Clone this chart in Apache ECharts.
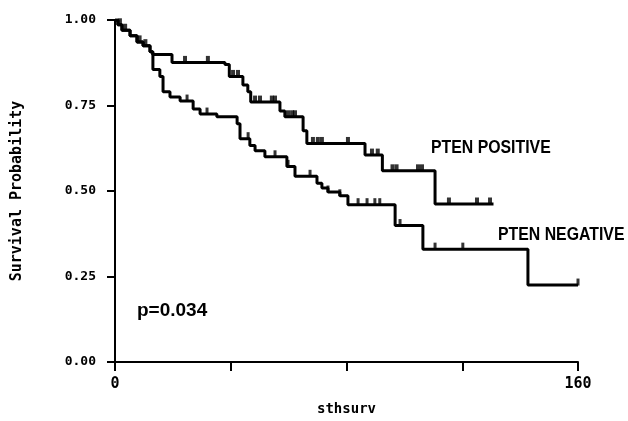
<!DOCTYPE html>
<html>
<head>
<meta charset="utf-8">
<script src="https://cdn.jsdelivr.net/npm/echarts@6/dist/echarts.min.js"></script>
<style>html,body{margin:0;padding:0;background:#fff}#c{width:628px;height:421px}</style>
</head>
<body>
<div id="c"></div>
<script>
// Kaplan-Meier curves
const posTime = [0,1.0,2.4,5.2,7.6,9.7,12.1,13.0,19.7,38.0,39.5,44.2,45.9,46.9,57.0,58.7,65.0,66.3,86.4,92.4,110.6,130.8];
const posSurv = [1.0,0.986,0.97,0.954,0.936,0.925,0.907,0.899,0.876,0.87,0.835,0.81,0.79,0.76,0.734,0.717,0.676,0.639,0.605,0.559,0.462,0.462];
const posCensor = [1.7,3.5,8.5,10.5,24.2,32.1,40.8,42.5,48.4,50.1,54.2,55.3,59.8,61.2,62.2,68.4,70.1,71.5,80.5,88.8,90.8,95.9,97.3,104.7,106.1,115.4,125.1,129.6];

const negTime = [0,1.0,2.4,5.2,7.6,9.7,12.1,13.1,15.5,16.6,19.0,22.5,27.0,29.4,35.2,42.2,43.2,46.6,48.4,51.8,59.4,62.2,69.8,71.5,73.6,77.7,80.5,96.8,106.4,142.7,160];
const negSurv = [1.0,0.986,0.97,0.954,0.936,0.925,0.907,0.855,0.835,0.79,0.775,0.763,0.74,0.725,0.717,0.697,0.653,0.633,0.618,0.60,0.572,0.543,0.523,0.509,0.497,0.486,0.46,0.399,0.33,0.225,0.225];
const negCensor = [24.9,31.8,46.0,55.3,59.8,67.4,73.6,77.7,84.0,87.1,89.8,91.5,98.5,110.6,120.2,160];

const xTickLabels = ['0','','','','160'];
const yTickLabels = ['0.00','0.25','0.50','0.75','1.00'];

function pairs(t, s){ return t.map((v,i)=>[v,s[i]]); }
function survAt(t, times, surv){
  let s = surv[0];
  for (let i=0;i<times.length;i++){ if (times[i] <= t) s = surv[i]; else break; }
  return s;
}
const posCensorPts = posCensor.map(t=>[t, survAt(t,posTime,posSurv)]);
const negCensorPts = negCensor.map(t=>[t, survAt(t,negTime,negSurv)]);

const chart = echarts.init(document.getElementById('c'), null, {renderer:'canvas'});
const monoBold = {fontFamily:'DejaVu Sans Mono', fontWeight:'bold', color:'#000'};
chart.setOption({
  animation:false,
  backgroundColor:'#fff',
  grid:{left:115, right:50, top:20, bottom:55},
  xAxis:[
    {type:'value', min:0, max:160, interval:40,
     axisLine:{show:true, lineStyle:{color:'#000', width:2}},
     axisTick:{show:false}, axisLabel:{show:false}, splitLine:{show:false},
     name:'sthsurv', nameLocation:'middle', nameGap:40,
     nameTextStyle:Object.assign({fontSize:14}, monoBold)},
    {type:'value', min:0, max:160, interval:40, position:'bottom', offset:12,
     axisLine:{show:false},
     axisTick:{show:true, length:9, lineStyle:{color:'#000', width:2}},
     axisLabel:Object.assign({show:true, fontSize:15, margin:3,
       formatter:(v)=>xTickLabels[Math.round(v/40)]}, monoBold),
     splitLine:{show:false}}
  ],
  yAxis:[
    {type:'value', min:0, max:1, interval:0.25,
     axisLine:{show:true, lineStyle:{color:'#000', width:2}},
     axisTick:{show:false}, axisLabel:{show:false}, splitLine:{show:false},
     name:'Survival Probability', nameLocation:'middle', nameGap:90, nameRotate:90,
     nameTextStyle:Object.assign({fontSize:15}, monoBold)},
    {type:'value', min:0, max:1, interval:0.25, position:'left', offset:11,
     axisLine:{show:false},
     axisTick:{show:true, length:8, lineStyle:{color:'#000', width:2}},
     axisLabel:Object.assign({show:true, fontSize:13, margin:8,
       formatter:(v)=>yTickLabels[Math.round(v/0.25)]}, monoBold),
     splitLine:{show:false}}
  ],
  series:[
    {type:'line', step:'end', data:pairs(posTime,posSurv), showSymbol:false,
     lineStyle:{color:'#000', width:3}, xAxisIndex:0, yAxisIndex:0},
    {type:'line', step:'end', data:pairs(negTime,negSurv), showSymbol:false,
     lineStyle:{color:'#000', width:3}, xAxisIndex:0, yAxisIndex:0},
    {type:'scatter', data:posCensorPts, symbol:'rect', symbolSize:[4,7], symbolOffset:[0,-3],
     itemStyle:{color:'#000'}, xAxisIndex:0, yAxisIndex:0},
    {type:'scatter', data:negCensorPts, symbol:'rect', symbolSize:[3,7], symbolOffset:[0,-3],
     itemStyle:{color:'#000'}, xAxisIndex:0, yAxisIndex:0}
  ],
  graphic:[
    {type:'text', left:431, top:139, scaleX:0.88,
     style:{text:'PTEN POSITIVE', font:'bold 18px "Liberation Sans"', fill:'#000'}},
    {type:'text', left:498, top:226, scaleX:0.88,
     style:{text:'PTEN NEGATIVE', font:'bold 18px "Liberation Sans"', fill:'#000'}},
    {type:'text', left:137, top:301,
     style:{text:'p=0.034', font:'bold 19px "Liberation Sans"', fill:'#000'}}
  ]
});
</script>
</body>
</html>
